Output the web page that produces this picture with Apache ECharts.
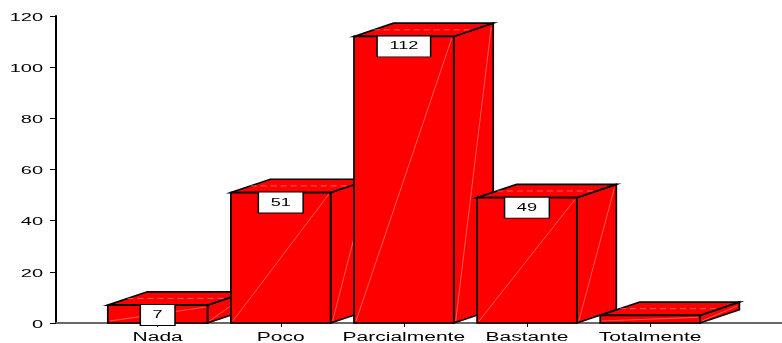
<!DOCTYPE html>
<html>
<head>
<meta charset="utf-8">
<script src="https://cdn.jsdelivr.net/npm/echarts@6/dist/echarts.min.js"></script>
<style>
  html, body { margin: 0; padding: 0; background: #ffffff; }
  #chart { width: 782px; height: 343px; }
</style>
</head>
<body>
<div id="chart"></div>
<script>
// Response categories and counts
const categories = ['Nada', 'Poco', 'Parcialmente', 'Bastante', 'Totalmente'];
const counts = [7, 51, 112, 49, 3];
const showValueLabel = [true, true, true, true, false];
const yTicks = [0, 20, 40, 60, 80, 100, 120];

const FONT = '"Liberation Sans", Arial, sans-serif';
const RED = '#ff0000';
const EDGE = '#000000';
const DEPTH_X = 39.5, DEPTH_Y = -13.3;   // 3D extrusion offset in pixels
const FRONT_RATIO = 0.81;                // front face width relative to band

const chart = echarts.init(document.getElementById('chart'), null, { renderer: 'canvas' });

// Solid 3D-looking bar: side face, top face, front face, plus value box
function renderBar(params, api) {
  const idx = api.value(0);
  const v = api.value(1);
  const top = api.coord([idx, v]);
  const base = api.coord([idx, 0]);
  const band = api.size([1, 0])[0];
  const w = band * FRONT_RATIO;
  const x0 = top[0] - w / 2, x1 = top[0] + w / 2;
  const yt = top[1], yb = base[1];
  const dx = DEPTH_X, dy = DEPTH_Y;
  const edgeStyle = { fill: RED, stroke: EDGE, lineWidth: 1.7, lineJoin: 'miter' };
  const faint = { stroke: 'rgba(255,200,200,0.75)', lineWidth: 0.6 };
  const children = [
    { type: 'polygon', shape: { points: [[x1, yb], [x1 + dx, yb + dy], [x1 + dx, yt + dy], [x1, yt]] }, style: edgeStyle },
    { type: 'line', shape: { x1: x1 + 2, y1: yb - 2, x2: x1 + dx - 2, y2: yt + dy + 4 }, style: faint },
    { type: 'polygon', shape: { points: [[x0, yt], [x0 + dx, yt + dy], [x1 + dx, yt + dy], [x1, yt]] }, style: edgeStyle },
    { type: 'line', shape: { x1: x0 + dx * 0.5, y1: yt + dy * 0.5, x2: x1 + dx * 0.5, y2: yt + dy * 0.5 }, style: { stroke: 'rgba(255,200,200,0.8)', lineWidth: 0.6, lineDash: [6, 4] } },
    { type: 'rect', shape: { x: x0, y: yt, width: w, height: yb - yt }, style: edgeStyle },
    { type: 'line', shape: { x1: x0 + 2, y1: yb - 2, x2: x1 - 2, y2: yt + 2 }, style: faint }
  ];
  if (showValueLabel[params.dataIndex]) {
    children.push({
      type: 'text',
      x: top[0], y: yt,
      scaleX: 1.65, originX: 0, originY: 0,
      style: {
        text: String(v),
        font: '11px ' + FONT,
        fill: '#000',
        align: 'center',
        verticalAlign: 'top',
        lineHeight: 14,
        backgroundColor: '#ffffff',
        borderColor: '#000000',
        borderWidth: 0.9,
        padding: [3, 7, 3, 7]
      }
    });
  }
  return { type: 'group', children };
}

// Wide-set tick labels on the value axis
function renderYLabel(params, api) {
  const p = api.coord([0, api.value(1)]);
  return {
    type: 'text', x: p[0] - 13, y: p[1] + 2, scaleX: 2.0, originX: 0, originY: 0,
    style: { text: String(api.value(1)), font: '10px ' + FONT, fill: '#000', align: 'right', verticalAlign: 'middle' }
  };
}

// Wide-set category labels under the axis
function renderXLabel(params, api) {
  const p = api.coord([api.value(0), 0]);
  return {
    type: 'text', x: p[0], y: p[1] + 9, scaleX: 1.75, originX: 0, originY: 0,
    style: { text: categories[params.dataIndex], font: '12px ' + FONT, fill: '#000', align: 'center', verticalAlign: 'top' }
  };
}

const option = {
  animation: false,
  backgroundColor: '#ffffff',
  grid: [
    { left: 56, right: 0, top: 16, bottom: 20 },
    { left: 96.1, right: 70.4, top: 16, bottom: 20 }
  ],
  xAxis: [
    { gridIndex: 0, type: 'value', min: 0, max: 1, position: 'bottom',
      axisLine: { show: true, onZero: false, lineStyle: { color: '#000', width: 1.5 } },
      axisTick: { show: false }, axisLabel: { show: false }, splitLine: { show: false } },
    { gridIndex: 0, type: 'value', min: 0, max: 1, position: 'top',
      axisLine: { show: true, lineStyle: { color: '#777', width: 1.5 } },
      axisTick: { show: false }, axisLabel: { show: false }, splitLine: { show: false } },
    { gridIndex: 1, type: 'category', data: categories, boundaryGap: true,
      axisLine: { show: false },
      axisTick: { show: true, alignWithLabel: true, length: 4, lineStyle: { color: '#000', width: 1 } },
      axisLabel: { show: false }, splitLine: { show: false } }
  ],
  yAxis: [
    { gridIndex: 0, type: 'value', min: 0, max: 120, interval: 20,
      axisLine: { show: true, lineStyle: { color: '#000', width: 2 } },
      axisTick: { show: true, length: 6, lineStyle: { color: '#000', width: 1 } },
      axisLabel: { show: false }, splitLine: { show: false } },
    { gridIndex: 1, type: 'value', min: 0, max: 120, interval: 20, show: false }
  ],
  series: [
    { type: 'custom', xAxisIndex: 2, yAxisIndex: 1, clip: false,
      renderItem: renderBar,
      data: counts.map((c, i) => [i, c]) },
    { type: 'custom', xAxisIndex: 0, yAxisIndex: 0, clip: false, silent: true,
      renderItem: renderYLabel,
      data: yTicks.map(t => [0, t]) },
    { type: 'custom', xAxisIndex: 2, yAxisIndex: 1, clip: false, silent: true,
      renderItem: renderXLabel,
      data: categories.map((c, i) => [i, 0]) }
  ]
};

chart.setOption(option);
</script>
</body>
</html>
